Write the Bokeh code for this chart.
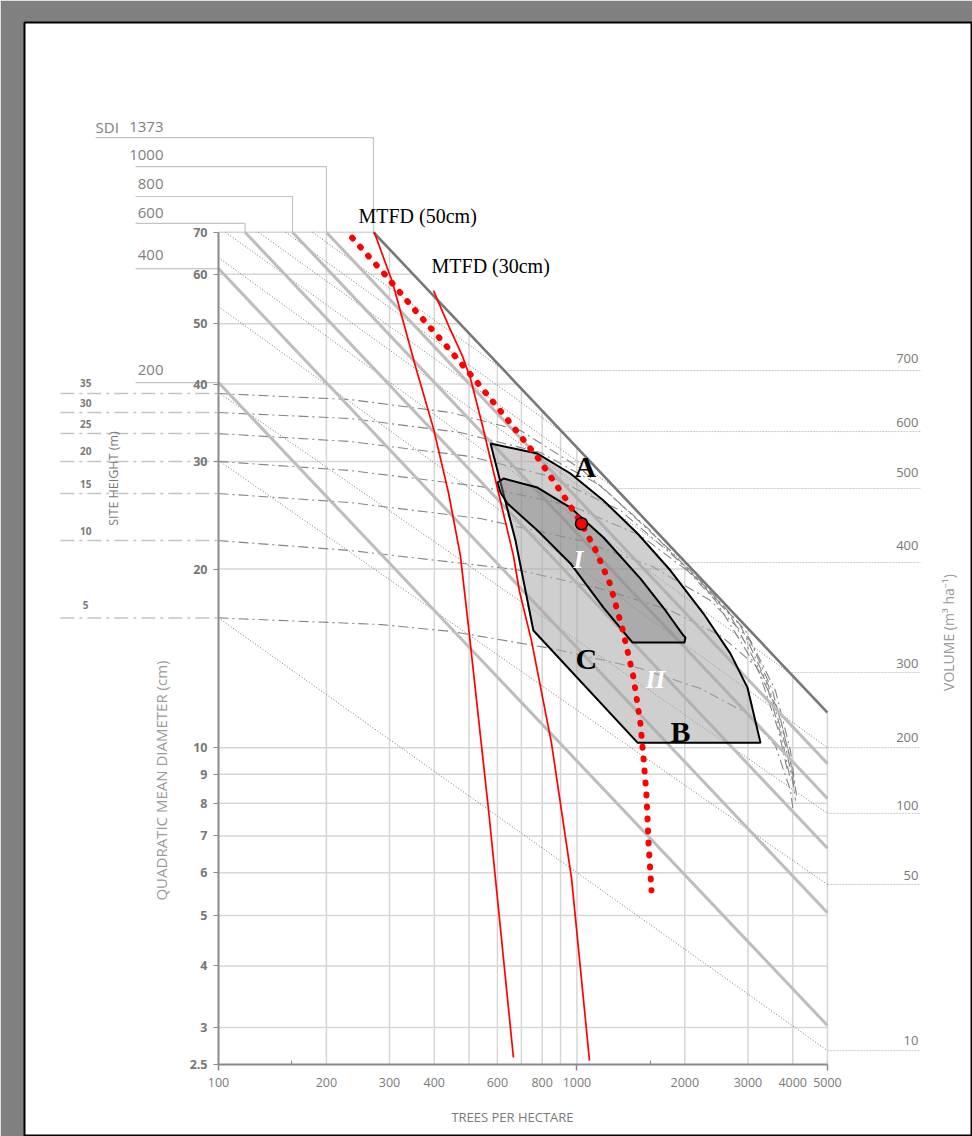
from bokeh.plotting import figure
from bokeh.models import Range1d, FixedTicker, CustomJSTickFormatter, LogAxis
from bokeh.core.properties import value
from bokeh.embed import file_html
from bokeh.resources import INLINE

# ---------------- axes ----------------
x_ticks = [100, 200, 300, 400, 600, 800, 1000, 2000, 3000, 4000, 5000]
x_tick_marks = [100, 1000, 5000]
x_minor_marks = [160, 1600]
y_ticks = [2.5, 3, 4, 5, 6, 7, 8, 9, 10, 20, 30, 40, 50, 60, 70]

# ---------------- grid (stops at the maximum SDI line) ----------------
grid_v_N = [200, 300, 400, 500, 600, 700, 800, 900, 1000, 2000, 3000, 4000, 5000]
grid_v_top_D = [70, 65.76, 55.27, 48.25, 43.19, 39.31, 36.23, 33.71, 31.61, 20.57, 15.94, 13.28, 11.5]
grid_h_D = [3, 4, 5, 6, 7, 8, 9, 10, 20, 30, 40, 50, 60, 70]
grid_h_right_N = [5000, 5000, 5000, 5000, 5000, 5000, 5000, 5000, 2092, 1088, 680, 471.7, 349, 270.6]

# ---------------- stand density index lines ----------------
sdi_labels = ["1373", "1000", "800", "600", "400", "200"]
sdi_N0 = [270.6, 200, 160.9, 118.6, 100, 100]
sdi_D0 = [70, 70, 70, 70, 61.26, 40.23]
sdi_N1 = [5000, 5000, 5000, 5000, 5000, 5000]
sdi_D1 = [11.5, 9.39, 8.16, 6.65, 5.06, 3.03]
sdi_leader_D = [99.0, 89.0, 79.8, 72.3, 61.26, 40.23]
sdi_leader_N_start = [45.4, 58.7, 58.7, 58.7, 58.7, 58.7]

# ---------------- volume isolines (m3/ha) ----------------
vol_labels = ["10", "50", "100", "200", "300", "400", "500", "600", "700"]
vol_N0 = [100, 100, 100, 100, 100, 104.6, 129.3, 153.8, 182.9]
vol_D0 = [16.6, 30.10, 38.76, 53.27, 63.79, 70, 70, 70, 70]
vol_N1 = [5000, 5000, 5000, 5000, 3892, 2008, 1281, 905, 628]
vol_D1 = [2.68, 5.71, 7.68, 10.01, 13.45, 20.50, 27.10, 33.53, 42.06]
vol_leader_N_end = 9087
vol_label_N = 8971

# ---------------- site height isolines (m) ----------------
site_labels = ["35", "30", "25", "20", "15", "10", "5"]
site_leader_D = [38.62, 35.99, 33.28, 29.99, 26.60, 22.28, 16.6]
site_leader_N0 = 36.2
site_label_N = 42.6
site_N = [
    [100, 233, 444, 696, 1023, 1604, 2435, 3210, 3650, 3867],
    [100, 233, 473, 791, 1163, 1824, 2681, 3357, 3745, 3942],
    [100, 233, 505, 844, 1323, 2074, 2859, 3423, 3818, 4019],
    [100, 233, 538, 959, 1504, 2211, 2952, 3512, 3892, 4071],
    [100, 233, 538, 1023, 1604, 2358, 3049, 3580, 3942, 4097],
    [100, 233, 674, 1163, 1824, 2514, 3148, 3650, 3942, 4071],
    [100, 285, 450, 849, 1504, 2211, 2952, 3580, 3942, 4019],
]
site_D = [
    [38.62, 37.77, 35.99, 33.66, 29.21, 23.14, 17.74, 13.55, 10.71, 9.13],
    [35.99, 35.20, 33.41, 31.01, 27.41, 21.46, 16.75, 13.03, 10.30, 8.78],
    [33.28, 32.31, 30.55, 28.35, 24.95, 19.89, 16.12, 12.78, 10.09, 8.60],
    [29.99, 28.99, 27.31, 25.43, 22.71, 19.15, 15.82, 12.53, 9.89, 8.43],
    [26.60, 25.71, 24.21, 22.28, 20.27, 17.74, 15.22, 12.53, 9.89, 8.26],
    [22.28, 21.46, 19.97, 18.57, 17.08, 15.51, 13.82, 11.59, 9.51, 8.09],
    [16.6, 16.18, 15.75, 14.76, 13.66, 12.63, 11.50, 10.09, 8.43, 7.71],
]

# ---------------- management zones ----------------
outer_N = [574, 776, 959, 1186, 1476, 1824, 2254, 2681, 2991, 3251, 1476, 756, 674]
outer_D = [32.07, 30.89, 28.67, 25.91, 22.88, 19.89, 16.88, 14.47, 12.68, 10.21, 10.21, 15.82, 22.28]
inner_N = [600, 624, 776, 959, 1186, 1504, 1766, 1983, 2008, 1995, 1429, 1186, 959, 776, 640, 612]
inner_D = [27.72, 28.13, 27.20, 25.23, 22.54, 19.29, 17.08, 15.51, 15.40, 15.10, 15.10, 17.27, 20.43, 23.14, 25.62, 26.7]

zone_text = ["A", "B", "C"]
zone_N = [1056, 1945, 1063]
zone_D = [29.43, 10.67, 14.20]
phase_text = ["I", "II"]
phase_N = [1010, 1656]
phase_D = [20.74, 13.08]

# ---------------- MTFD curves and trajectory ----------------
mtfd50_N = [272, 306, 354, 398, 438, 473, 498, 567, 665]
mtfd50_D = [70, 58.2, 42.8, 33.9, 26.7, 21.05, 16.1, 7.77, 2.59]
mtfd30_N = [398, 438, 479, 505, 545, 604, 665, 691, 747, 849, 966, 1084]
mtfd30_D = [56.5, 49.7, 44.4, 40.8, 34.3, 26.7, 21.05, 18.4, 15.2, 10.2, 5.86, 2.55]
mtfd_text = ["MTFD (50cm)", "MTFD (30cm)"]
mtfd_text_N = [245.8, 392.9]
mtfd_text_D = [72.27, 60.37]

traj_N = [236, 290, 354, 433, 528, 644, 781, 929, 1030, 1127, 1233, 1340, 1438, 1504, 1534, 1563, 1584, 1614]
traj_D = [68.6, 60.1, 52.5, 46.0, 40.2, 34.9, 30.3, 26.1, 23.75, 21.5, 19.0, 15.9, 13.2, 11.0, 9.58, 8.29, 6.81, 5.57]
point_N = [1030]
point_D = [23.75]

# label lift above their leader lines (screen px, styling only)
sdi_lift = [-10.5, -12, -12.5, -10.5, -14, -13]
vol_lift = [-10, -9, -8, -10, -9, -17, -16, -9, -12]
site_lift = [-11, -10, -10, -10, -10, -10, -12.5]


def yv(d):
    # the diagram's vertical scale is logarithmic in (D + 1)
    if isinstance(d, (list, tuple)):
        return [v + 1 for v in d]
    return d + 1


SANS = value("Open Sans")
SERIF = value("Liberation Serif")

p = figure(width=972, height=1136, x_axis_type="log", y_axis_type="log",
           x_range=Range1d(28.76, 12694), y_range=Range1d(2.6977, 151.6),
           output_backend="svg", toolbar_location=None,
           min_border_left=24, min_border_top=22, min_border_right=0, min_border_bottom=0,
           border_fill_color="#808080", background_fill_color="white",
           outline_line_color="black", outline_line_width=2)
p.grid.visible = False

# axes
xa = p.xaxis[0]
xa.fixed_location = yv(2.5)
xa.bounds = (100, 5000)
xa.ticker = FixedTicker(ticks=x_ticks, minor_ticks=x_minor_marks)
xa.formatter = CustomJSTickFormatter(code="return String(Math.round(tick))")
xa.axis_line_color = "#8a8a8a"
xa.axis_line_width = 2
xa.major_tick_out = 0
xa.major_tick_in = 0
xa.minor_tick_in = 4
xa.minor_tick_out = 0
xa.minor_tick_line_color = "#8a8a8a"
xa.major_label_standoff = 13
xa.major_label_text_font = "Open Sans"
xa.major_label_text_font_size = "12.5px"
xa.major_label_text_color = "#7a7a7a"

xt = LogAxis(ticker=FixedTicker(ticks=x_tick_marks, minor_ticks=[]), fixed_location=yv(2.5),
             bounds=(100, 5000), axis_line_color=None, major_tick_out=6, major_tick_in=0,
             major_tick_line_color="#8a8a8a", major_tick_line_width=1.5,
             major_label_text_color=None, minor_tick_line_color=None)
p.add_layout(xt, "below")

ya = p.yaxis[0]
ya.fixed_location = 100
ya.bounds = (yv(2.5), yv(70))
ya.ticker = FixedTicker(ticks=yv(y_ticks), minor_ticks=[])
ya.formatter = CustomJSTickFormatter(code="return String(Math.round((tick - 1) * 10) / 10)")
ya.axis_line_color = "#8a8a8a"
ya.axis_line_width = 2
ya.major_tick_out = 5
ya.major_tick_in = 0
ya.major_tick_line_color = "#8a8a8a"
ya.minor_tick_line_color = None
ya.major_label_standoff = 6
ya.major_label_text_font = "Open Sans"
ya.major_label_text_font_size = "12.5px"
ya.major_label_text_font_style = "bold"
ya.major_label_text_color = "#777777"

GRID = "#d6d6d6"
# grid
p.segment(x0=grid_v_N, y0=[yv(2.5)] * len(grid_v_N), x1=grid_v_N, y1=yv(grid_v_top_D),
          line_color=GRID, line_width=1.5)
p.segment(x0=[100] * len(grid_h_D), y0=yv(grid_h_D), x1=grid_h_right_N, y1=yv(grid_h_D),
          line_color=GRID, line_width=1.5)

# SDI leaders and labels
lx, ly = [], []
for i in range(len(sdi_labels)):
    if sdi_N0[i] > 100:
        lx.append([sdi_leader_N_start[i], sdi_N0[i], sdi_N0[i]])
        ly.append([yv(sdi_leader_D[i]), yv(sdi_leader_D[i]), yv(70)])
    else:
        lx.append([sdi_leader_N_start[i], 100])
        ly.append([yv(sdi_leader_D[i]), yv(sdi_leader_D[i])])
p.multi_line(lx, ly, line_color="#c4c4c4", line_width=1.2)
p.text(x=[70.24] * len(sdi_labels), y=yv(sdi_leader_D), text=sdi_labels, text_align="right",
       text_baseline="middle", y_offset=sdi_lift, text_font=SANS, text_font_size="15px",
       text_color="#808080")
p.text(x=[45.4], y=[yv(sdi_leader_D[0])], text=["SDI"], text_align="left",
       text_baseline="middle", y_offset=sdi_lift[0], text_font=SANS, text_font_size="15px",
       text_color="#808080")

# volume leaders and labels
p.segment(x0=vol_N1, y0=yv(vol_D1), x1=[vol_leader_N_end] * len(vol_N1), y1=yv(vol_D1),
          line_color="#c8c8c8", line_width=1, line_dash="2 1")
p.text(x=[vol_label_N] * len(vol_labels), y=yv(vol_D1), text=vol_labels, text_align="right",
       text_baseline="middle", y_offset=vol_lift, text_font=SANS, text_font_size="13px",
       text_color="#777777")

# site height leaders and labels
p.segment(x0=[site_leader_N0] * len(site_labels), y0=yv(site_leader_D), x1=[100] * len(site_labels),
          y1=yv(site_leader_D), line_color="#c4c4c4", line_width=1.5, line_dash="14 5 3 5")
p.text(x=[site_label_N] * len(site_labels), y=yv(site_leader_D), text=site_labels, text_align="center",
       text_baseline="middle", y_offset=site_lift, text_font=SANS, text_font_size="10px",
       text_font_style="bold", text_color="#7a7a7a")

# volume isolines
p.segment(x0=vol_N0, y0=yv(vol_D0), x1=vol_N1, y1=yv(vol_D1),
          line_color="#6a6a6a", line_width=0.9, line_dash="1 2")

# site height isolines
p.multi_line(site_N, [yv(d) for d in site_D], line_color="#858585", line_width=1.1,
             line_dash="10 4 2 4")

# SDI lines
p.segment(x0=sdi_N0[1:], y0=yv(sdi_D0[1:]), x1=sdi_N1[1:], y1=yv(sdi_D1[1:]),
          line_color="#bdbdbd", line_width=3)
p.line([sdi_N0[0], sdi_N1[0]], [yv(sdi_D0[0]), yv(sdi_D1[0])], line_color="#777777", line_width=2.6)

# management zones
p.patch(outer_N, yv(outer_D), fill_color="#a8a8a8", fill_alpha=0.55, line_color="black", line_width=2)
p.patch(inner_N, yv(inner_D), fill_color="#7a7a7a", fill_alpha=0.42, line_color="black", line_width=2)

# MTFD curves
p.line(mtfd50_N, yv(mtfd50_D), line_color="#ff0000", line_width=1.7)
p.line(mtfd30_N, yv(mtfd30_D), line_color="#ff0000", line_width=1.7)
p.text(x=mtfd_text_N, y=yv(mtfd_text_D), text=mtfd_text, text_align="left", text_baseline="middle",
       y_offset=[-7.5, -7], text_font=SERIF, text_font_size="20px", text_color="black")

# trajectory
p.line(traj_N, yv(traj_D), line_color="#ff0000", line_width=6, line_dash="1 11", line_cap="round")
p.scatter(point_N, yv(point_D), marker="circle", size=12, fill_color="#ff0000",
          line_color="black", line_width=1.5)

# zone labels
p.text(x=zone_N, y=yv(zone_D), text=zone_text, text_align="center", text_baseline="middle",
       text_font=SERIF, text_font_size="30px", text_font_style="bold", text_color="black")
p.text(x=phase_N, y=yv(phase_D), text=phase_text, text_align="center", text_baseline="middle",
       text_font=SERIF, text_font_size="25px", text_font_style="bold italic", text_color="white")

# axis titles
p.text(x=[661], y=[2.90], text=["TREES PER HECTARE"], text_align="center", text_baseline="middle",
       text_font=SANS, text_font_size="13px", text_color="#7a7a7a")
p.text(x=[68.9], y=[9.775], text=["QUADRATIC MEAN DIAMETER (cm)"], angle=1.5707963,
       text_align="center", text_baseline="middle", text_font=SANS, text_font_size="15px",
       text_color="#9a9a9a")
p.text(x=[50.94], y=[29.13], text=["SITE HEIGHT (m)"], angle=1.5707963, text_align="center",
       text_baseline="middle", text_font=SANS, text_font_size="12.5px", text_color="#7a7a7a")
p.text(x=[10878], y=[16.69], text=["VOLUME (m\u00b3 ha\u207b\u00b9)"], angle=1.5707963,
       text_align="center", text_baseline="middle", text_font=SANS, text_font_size="14px",
       text_color="#9a9a9a")

open("out.html", "w").write(file_html(p, INLINE))
